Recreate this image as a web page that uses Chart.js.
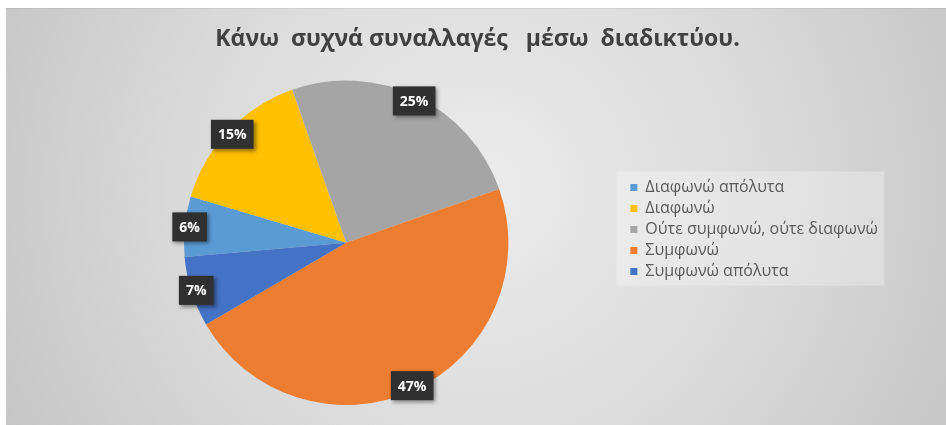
<!DOCTYPE html>
<html>
<head>
<meta charset="utf-8">
<script src="https://cdn.jsdelivr.net/npm/chart.js@4.4.1/dist/chart.umd.min.js"></script>
<style>
  body { margin: 0; background: #ffffff; }
  #answers_chart { display: block; }
</style>
</head>
<body>
<canvas id="answers_chart" width="946" height="425"></canvas>
<script>
// survey answers, in the order Excel lists them
var answerLabels = ['Διαφωνώ απόλυτα', 'Διαφωνώ', 'Ούτε συμφωνώ, ούτε διαφωνώ', 'Συμφωνώ', 'Συμφωνώ απόλυτα'];
var answerPercentages = [6, 15, 25, 47, 7];
var answerColors = ['#5B9BD5', '#FFC000', '#A5A5A5', '#ED7D31', '#4472C4'];

// grey card behind everything (radial gradient, small white margin top/left)
var cardBackground = {
    id: 'cardBackground',
    beforeDraw: function (chart) {
        var ctx = chart.ctx;
        ctx.save();
        var grad = ctx.createRadialGradient(480, 190, 0, 480, 190, 560);
        grad.addColorStop(0, '#ececec');
        grad.addColorStop(0.55, '#d9d9d9');
        grad.addColorStop(1, '#c3c3c3');
        ctx.fillStyle = grad;
        ctx.fillRect(6, 8, chart.width - 6, chart.height - 8);
        ctx.fillStyle = 'rgba(0,0,0,0.06)';
        ctx.fillRect(6, 8, chart.width - 6, 1);

        // lighter panel behind the legend
        var legend = chart.legend;
        if (legend && legend.legendHitBoxes.length) {
            var boxes = legend.legendHitBoxes;
            var x0 = boxes[0].left - 14;
            var y0 = boxes[0].top - 8;
            var x1 = x0 + 268;
            var last = boxes[boxes.length - 1];
            var y1 = last.top + last.height + 6;
            ctx.fillStyle = 'rgba(255,255,255,0.28)';
            ctx.fillRect(x0, y0, x1 - x0, y1 - y0);
        }
        ctx.restore();
    }
};

// dark callout boxes with the percentage near the rim of each slice
var percentCallouts = {
    id: 'percentCallouts',
    afterDatasetsDraw: function (chart) {
        var ctx = chart.ctx;
        var meta = chart.getDatasetMeta(0);
        ctx.save();
        ctx.font = 'bold 14px "Open Sans", sans-serif';
        ctx.textAlign = 'center';
        ctx.textBaseline = 'middle';
        meta.data.forEach(function (arc, i) {
            var mid = (arc.startAngle + arc.endAngle) / 2;
            var dist = arc.outerRadius * 0.97;
            var x = arc.x + Math.cos(mid) * dist;
            var y = arc.y + Math.sin(mid) * dist;
            var text = answerPercentages[i] + '%';
            var w = ctx.measureText(text).width + 14;
            var h = 29;
            ctx.shadowColor = 'rgba(0,0,0,0.45)';
            ctx.shadowBlur = 4;
            ctx.shadowOffsetX = 2;
            ctx.shadowOffsetY = 2;
            ctx.fillStyle = '#303030';
            ctx.fillRect(x - w / 2, y - h / 2, w, h);
            ctx.shadowColor = 'transparent';
            ctx.fillStyle = '#ffffff';
            ctx.fillText(text, x, y + 1);
        });
        ctx.restore();
    }
};

var ctx = document.getElementById('answers_chart').getContext('2d');
var answersChart = new Chart(ctx, {
    type: 'pie',
    data: {
        labels: answerLabels,
        datasets: [{
            data: answerPercentages,
            backgroundColor: answerColors,
            borderWidth: 0
        }]
    },
    options: {
        responsive: false,
        animation: false,
        rotation: 265,
        layout: {
            padding: { left: 67, right: 58, top: 0, bottom: 20 }
        },
        plugins: {
            title: {
                display: true,
                text: 'Κάνω  συχνά συναλλαγές   μέσω  διαδικτύου.',
                color: '#404040',
                font: { family: '"Open Sans", sans-serif', size: 23, weight: 'bold' },
                padding: { top: 26, bottom: 27 }
            },
            legend: {
                display: true,
                position: 'right',
                fullSize: false,
                align: 'start',
                // empty title only used to push the entries down
                title: {
                    display: true,
                    text: '',
                    font: { size: 10 },
                    padding: { top: 82, bottom: 0 }
                },
                labels: {
                    color: '#595959',
                    font: { family: '"Open Sans", sans-serif', size: 16 },
                    boxWidth: 7,
                    boxHeight: 7,
                    padding: 5
                }
            },
            tooltip: { enabled: false }
        }
    },
    plugins: [cardBackground, percentCallouts]
});
</script>
</body>
</html>
